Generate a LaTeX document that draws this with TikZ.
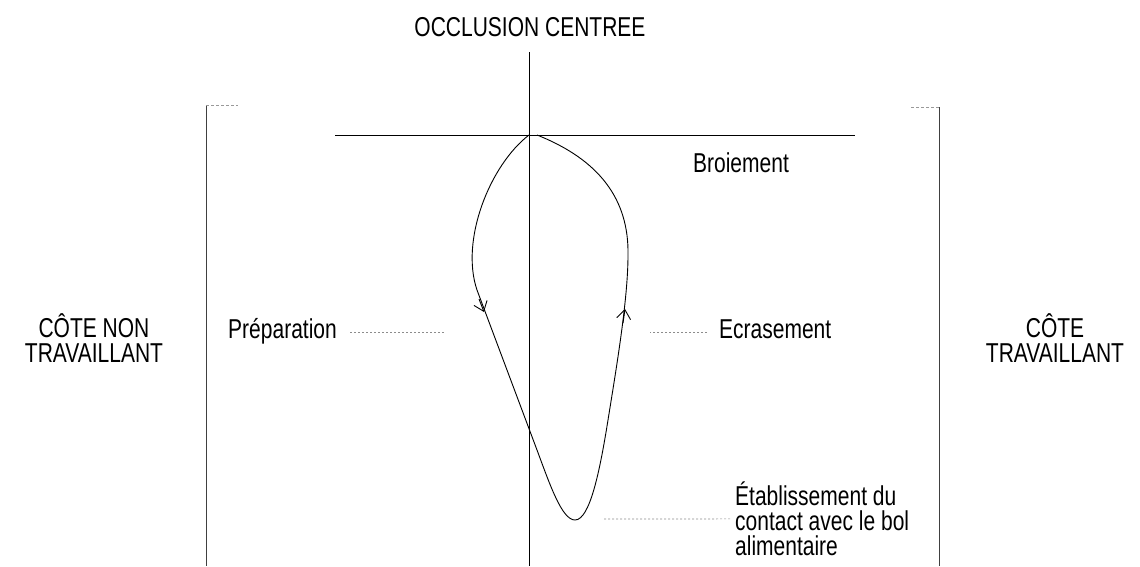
\documentclass[tikz,border=0pt]{standalone}
\usepackage{fontspec}
\setmainfont{Liberation Sans}
\usetikzlibrary{positioning,arrows.meta,calc}
\tikzset{
  txt/.style={font=\fontsize{21}{19}\selectfont,yscale=1.3,inner sep=0pt,align=center},
  axe/.style={line width=0.9pt},
  cycle/.style={line width=0.9pt,line join=round},
  sens/.style={-{Straight Barb[length=9pt,width=14pt]},line width=0.9pt},
  bord/.style={line width=0.8pt,black!75},
  tic/.style={line width=0.6pt,black!40,dash pattern=on 3pt off 2pt},
  leader/.style={line width=0.6pt,black!45,dash pattern=on 2pt off 2pt},
}
\begin{document}
\begin{tikzpicture}[x=1pt,y=-1pt]
  \useasboundingbox (0,0) rectangle (1140,566);
  % labels
  \node[txt,anchor=base] (titre) at (530,36) {OCCLUSION CENTREE};
  \node[txt] (nontrav) at (94,338) {CÔTE NON\\TRAVAILLANT};
  \node[txt] (trav) at (1055,338) {CÔTE\\TRAVAILLANT};
  \node[txt,anchor=base east] (prep) at (337,338) {Préparation};
  \node[txt,anchor=base west] (ecras) at (719,338) {Ecrasement};
  \node[txt,anchor=base] (broi) at (741,172) {Broiement};
  \node[txt,anchor=north west,align=left] (contact) at (735,482)
    {Établissement du\\contact avec le bol\\alimentaire};
  % side limits
  \draw[bord] (206,105) -- (206,566);
  \draw[tic] (206,105) -- (238,105);
  \draw[bord] (939,107) -- (939,566);
  \draw[tic] (911,107) -- (939,107);
  % axes
  \draw[axe] (529,52) -- (529,566);
  \draw[axe] (335,135) -- (855,135);
  % masticatory cycle
  \draw[cycle] (529,135) .. controls (490,165) and (460,240) .. (477,290)
    -- (537,450) .. controls (550,485) and (562,520) .. (575,520)
    .. controls (590,520) and (600,470) .. (608,420)
    .. controls (616,370) and (628,300) .. (628,255)
    .. controls (629,200) and (600,160) .. (537,135);
  \draw[sens] (479,299) -- (484,312);
  \draw[sens] (623,323) -- (625,309);
  % leaders
  \coordinate (prepfin) at (445,332);
  \coordinate (ecrasfin) at (650,332);
  \coordinate (contactfin) at (603,519);
  \draw[leader] ([xshift=13pt,yshift=6pt]prep.base east) -- (prepfin);
  \draw[leader] ([xshift=-12pt,yshift=6pt]ecras.base west) -- (ecrasfin);
  \draw[leader] ([xshift=-5pt]contact.west) -- (contactfin);
\end{tikzpicture}
\end{document}
